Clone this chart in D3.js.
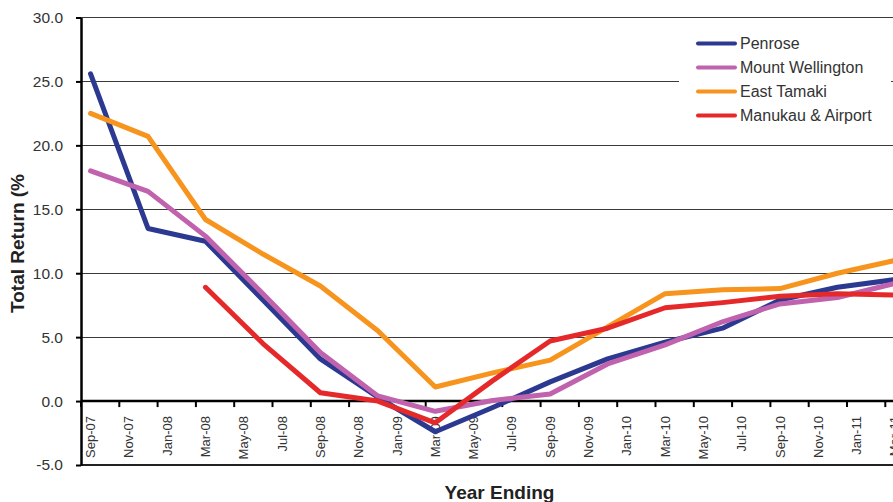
<!DOCTYPE html>
<html><head><meta charset="utf-8">
<script src="https://cdn.jsdelivr.net/npm/d3@7"></script>
<style>
html,body{margin:0;padding:0;background:#fff;overflow:hidden;}
svg{display:block;font-family:"Liberation Sans",Arial,sans-serif;}
</style></head>
<body>
<svg id="chart" width="893" height="502"></svg>
<script>
const months = ["Sep-07","Oct-07","Nov-07","Dec-07","Jan-08","Feb-08","Mar-08","Apr-08","May-08","Jun-08","Jul-08","Aug-08",
  "Sep-08","Oct-08","Nov-08","Dec-08","Jan-09","Feb-09","Mar-09","Apr-09","May-09","Jun-09","Jul-09","Aug-09",
  "Sep-09","Oct-09","Nov-09","Dec-09","Jan-10","Feb-10","Mar-10","Apr-10","May-10","Jun-10","Jul-10","Aug-10",
  "Sep-10","Oct-10","Nov-10","Dec-10","Jan-11","Feb-11","Mar-11","Apr-11","May-11","Jun-11"];
const quarters = ["Sep-07","Dec-07","Mar-08","Jun-08","Sep-08","Dec-08","Mar-09","Jun-09","Sep-09","Dec-09","Mar-10","Jun-10","Sep-10","Dec-10","Mar-11"];
const tickLabels = ["Sep-07","Nov-07","Jan-08","Mar-08","May-08","Jul-08","Sep-08","Nov-08","Jan-09","Mar-09","May-09","Jul-09",
  "Sep-09","Nov-09","Jan-10","Mar-10","May-10","Jul-10","Sep-10","Nov-10","Jan-11","Mar-11"];
const yTicks = [-5,0,5,10,15,20,25,30];

const penrose   = [25.6,13.5,12.5,7.9,3.3,0.3,-2.4,-0.5,1.5,3.3,4.6,5.7,7.9,8.9,9.5];
const mountWell = [18.0,16.4,12.9,8.4,3.8,0.4,-0.8,0.05,0.55,2.9,4.4,6.2,7.6,8.1,9.2];
const eastTamaki= [22.5,20.7,14.2,11.5,9.0,5.5,1.1,2.2,3.2,5.8,8.4,8.7,8.8,10.0,11.0];
const manukau   = [null,null,8.9,4.5,0.65,0.0,-1.7,1.6,4.7,5.7,7.3,7.7,8.2,8.4,8.3];

const seriesNames = ["Penrose","Mount Wellington","East Tamaki","Manukau & Airport"];
const seriesData = [penrose, mountWell, eastTamaki, manukau];
const seriesColors = ["#2b3990","#c062ad","#f7941d","#e5292a"];

const svg = d3.select("#chart");
const step = 19.15;
const x = d3.scaleBand().domain(months).range([81, 81 + step*months.length]);
const y = d3.scaleLinear().domain([-5,30]).range([465,17.5]);
const bw = x.bandwidth();
const right = 81 + step*months.length;

// gridlines
svg.append("g").selectAll("line").data(yTicks).join("line")
  .attr("x1",81).attr("x2",right)
  .attr("y1",d=>y(d)).attr("y2",d=>y(d))
  .attr("stroke",d=>d===-5?"#222":"#3a3a3a")
  .attr("stroke-width",d=>d===-5?2:1.2)
  .attr("shape-rendering","crispEdges");

// legend background
const lg = svg.append("g");
lg.append("rect").attr("x",679).attr("y",30).attr("width",212).attr("height",102).attr("fill","#fff");

// y axis
const fmt = d3.format(".1f");
const yAxis = svg.append("g").attr("transform","translate(81,0)")
  .call(d3.axisLeft(y).tickValues(yTicks).tickFormat(d=>fmt(d).replace("\u2212","-")).tickSize(5).tickSizeOuter(0));
yAxis.select(".domain").attr("stroke","#000").attr("stroke-width",2.5);
yAxis.selectAll(".tick line").attr("stroke","#000").attr("stroke-width",2);
yAxis.selectAll(".tick text").attr("x",-18).attr("fill","#333").attr("font-size","15.5px")
  .attr("font-family","'Liberation Sans',Arial,sans-serif");

// x axis line at zero
svg.append("line").attr("x1",81).attr("x2",right).attr("y1",y(0)).attr("y2",y(0))
  .attr("stroke","#000").attr("stroke-width",2.5);
// x ticks
svg.append("g").selectAll("line").data(tickLabels).join("line")
  .attr("x1",d=>x(d)).attr("x2",d=>x(d)).attr("y1",y(0)).attr("y2",y(0)+6)
  .attr("stroke","#000").attr("stroke-width",2);
// x labels
svg.append("g").selectAll("text").data(tickLabels).join("text")
  .attr("transform",d=>`translate(${x(d)+bw/2},${y(0)+15}) rotate(-90)`)
  .attr("text-anchor","end").attr("dy","0.35em")
  .attr("font-size","13px").attr("fill","#333").text(d=>d);

// lines
const line = d3.line()
  .defined(d=>d.v!==null)
  .x(d=>x(d.m)+bw/2).y(d=>y(d.v));
svg.append("g").selectAll("path").data(seriesData).join("path")
  .attr("d",s=>line(s.map((v,i)=>({m:quarters[i],v}))))
  .attr("fill","none").attr("stroke",(s,i)=>seriesColors[i])
  .attr("stroke-width",5).attr("stroke-linejoin","round").attr("stroke-linecap","round");

// legend
const li = lg.selectAll("g.item").data(seriesNames).join("g").attr("class","item")
  .attr("transform",(d,i)=>`translate(0,${43.5+i*24})`);
li.append("line").attr("x1",698).attr("x2",735).attr("y1",0).attr("y2",0)
  .attr("stroke",(d,i)=>seriesColors[i]).attr("stroke-width",4).attr("stroke-linecap","round");
li.append("text").attr("x",740).attr("y",0).attr("dy","0.36em")
  .attr("font-size","16px").attr("fill","#333").text(d=>d);

// axis titles
svg.append("text").attr("transform","translate(24,243.5) rotate(-90)")
  .attr("text-anchor","middle").attr("font-weight","bold").attr("font-size","19px").attr("fill","#222")
  .text("Total Return (%");
svg.append("text").attr("x",499.5).attr("y",499).attr("text-anchor","middle")
  .attr("font-weight","bold").attr("font-size","19px").attr("fill","#222").text("Year Ending");
</script>
</body></html>
